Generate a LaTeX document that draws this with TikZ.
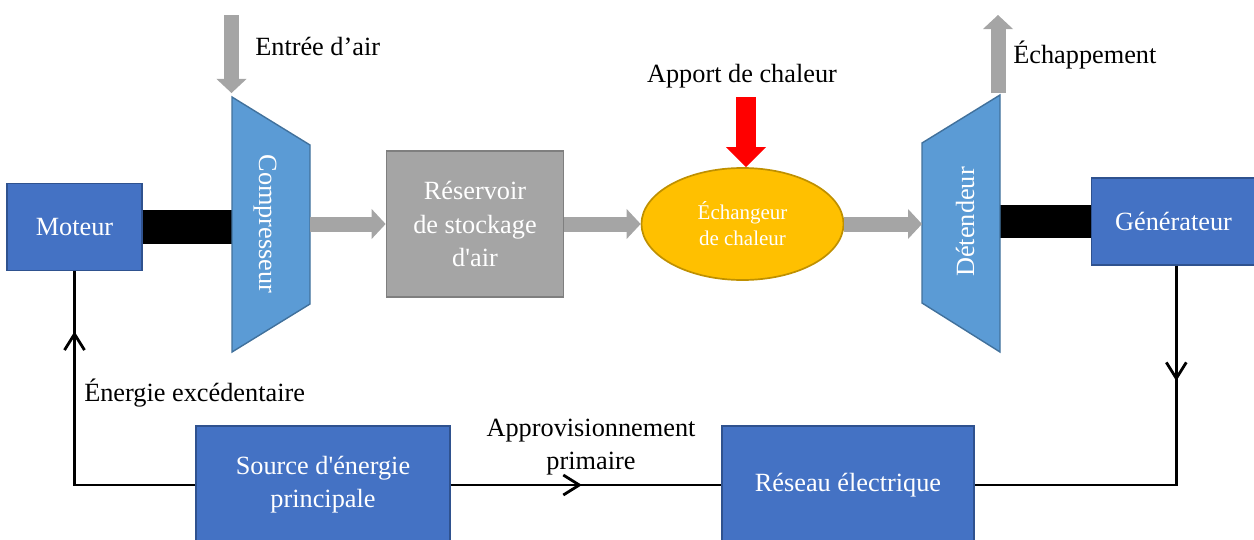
\documentclass[tikz,border=0pt]{standalone}
\usepackage{fontspec}
\setmainfont{Liberation Serif}[Ligatures=TeXOff]
\usepackage{xcolor}
\usepackage{tikz}
\usetikzlibrary{arrows.meta,decorations.markings,shapes.geometric}
\definecolor{boxblue}{HTML}{4472C4}
\definecolor{boxedge}{HTML}{2F528F}
\definecolor{turbblue}{HTML}{5B9BD5}
\definecolor{turbedge}{HTML}{41719C}
\definecolor{tankgray}{HTML}{A5A5A5}
\definecolor{tankedge}{HTML}{7F7F7F}
\definecolor{hxfill}{HTML}{FFC000}
\definecolor{hxedge}{HTML}{BF9000}
\definecolor{heatred}{HTML}{FF0000}
\tikzset{
  box/.style={draw=boxedge, fill=boxblue, line width=1pt, text=white, inner sep=0pt,
    minimum width=3.375cm, minimum height=2.175cm},
  tank/.style={draw=tankedge, fill=tankgray, line width=1.2pt, text=white, inner sep=0pt,
    minimum width=4.425cm, minimum height=3.65cm, align=center},
  hx/.style={ellipse, draw=hxedge, fill=hxfill, line width=1.2pt, text=white, inner sep=0pt,
    minimum width=5.05cm, minimum height=2.8cm, align=center,
    font=\fontsize{14.9}{18.5}\selectfont},
  turb/.style={draw=turbedge, fill=turbblue, line width=1pt, line join=miter},
  shaft/.style={draw=black, line width=0.825cm},
  flow/.style={draw=tankgray, line width=0.375cm,
    -{Triangle[length=0.35cm, width=0.75cm, line width=0pt]}},
  heat/.style={draw=heatred, line width=0.5cm,
    -{Triangle[length=0.5cm, width=1cm, line width=0pt]}},
  wire/.style={draw=black, line width=2pt},
  midarrow/.style={postaction={decorate}, decoration={markings,
    mark=at position #1 with {\arrow{Straight Barb[length=0.4cm, width=0.5cm, line width=2pt]}}}},
  lab/.style={text=black, inner sep=0pt},
  labw/.style={text=white},
}
\begin{document}
\begin{tikzpicture}[x=0.025cm, y=-0.025cm, font=\fontsize{18.7}{23.6}\selectfont]
  \clip (0,0) rectangle (1254,539);

  % corners of compressor and expander
  \coordinate (c-nw) at (232,97);
  \coordinate (c-ne) at (310,145);
  \coordinate (c-se) at (310,304);
  \coordinate (c-sw) at (232,352);
  \coordinate (d-nw) at (922,143);
  \coordinate (d-ne) at (1000,95);
  \coordinate (d-se) at (1000,352);
  \coordinate (d-sw) at (922,303);
  \coordinate (airin) at (231.5,15);
  \coordinate (airout) at (231.5,93);
  \coordinate (exh0) at (998,93);
  \coordinate (exh1) at (998,15);
  \coordinate (heat0) at (746,97);

  \node[box] (mot) at (74.5,227) {Moteur};
  \node[tank] (res) at (475,224) {Réservoir\\de stockage\\d'air};
  \node[hx] (exch) at (742.5,224) {Échangeur\\de chaleur};
  \node[box, minimum width=4.1cm] (gen) at (1173.5,221.5) {Générateur};
  \node[box, minimum width=6.35cm, minimum height=2.95cm, align=center] (src) at (323,485) {Source d'énergie\\principale};
  \node[box, minimum width=6.3cm, minimum height=2.95cm] (grid) at (848,485) {Réseau électrique};

  \draw[shaft] (mot.east) -- (mot.east -| c-nw);
  \draw[shaft] (gen.west -| d-ne) -- (gen.west);

  \draw[turb] (c-nw) -- (c-ne) -- (c-se) -- (c-sw) -- cycle;
  \draw[turb] (d-nw) -- (d-ne) -- (d-se) -- (d-sw) -- cycle;
  \node[labw, rotate=-90] (comp) at (265,224) {Compresseur};
  \node[labw, rotate=90] (det) at (965,222) {Détendeur};

  \draw[flow] (airin) -- (airout);
  \draw[flow] (res.west -| c-ne) -- (res.west);
  \draw[flow] (res.east) -- (exch.west);
  \draw[flow] (exch.east) -- (exch.east -| d-nw);
  \draw[flow] (exh0) -- (exh1);
  \draw[heat] (heat0) -- (heat0 |- exch.north);

  \node[lab, anchor=base west] at (255,55) {Entrée d’air};
  \node[lab, anchor=base west] at (1013,63) {Échappement};
  \node[lab, anchor=base] at (742,82) {Apport de chaleur};
  \node[lab, anchor=base west] at (84,401) {Énergie excédentaire};
  \node[lab, align=center] at (591,447) {Approvisionnement\\primaire};

  \draw[wire, midarrow=0.82] (src.west) -| (mot.south);
  \draw[wire, midarrow=0.485] (src.east) -- (grid.west);
  \draw[wire, midarrow=0.274] ([xshift=0.07cm]gen.south) |- (grid.east);
\end{tikzpicture}
\end{document}
